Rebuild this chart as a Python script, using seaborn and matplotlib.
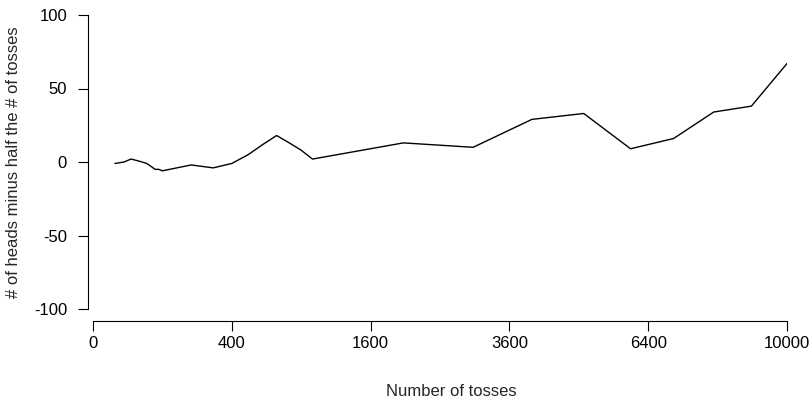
import numpy as np
import pandas as pd
import matplotlib
matplotlib.use("Agg")
import matplotlib.pyplot as plt
import seaborn as sns

# Kerrich's coin tosses: running count of heads minus half the tosses
tosses = [10, 20, 30, 40, 50, 60, 70, 80, 90, 100,
          200, 300, 400, 500, 600, 700, 800, 900, 1000,
          2000, 3000, 4000, 5000, 6000, 7000, 8000, 9000, 10000]
difference = [-1, 0, 2, 1, 0, -1, -3, -5, -5, -6,
              -2, -4, -1, 5, 12, 18, 13, 8, 2,
              13, 10, 29, 33, 9, 16, 34, 38, 67]
x_ticks = [0, 400, 1600, 3600, 6400, 10000]
y_ticks = [-100, -50, 0, 50, 100]

df = pd.DataFrame({"tosses": tosses, "difference": difference})

sns.set_theme(style="ticks")
plt.rcParams["font.family"] = ["Liberation Sans", "DejaVu Sans"]

W, H = 812, 399
FS = 12
fig = plt.figure(figsize=(W / 100, H / 100), dpi=100)
ax = fig.add_axes([93 / W, (H - 309) / H, (787 - 93) / W, (309 - 15) / H])

# square-root scale on the horizontal axis
def fwd(x):
    x = np.asarray(x, dtype=float)
    return np.sign(x) * np.sqrt(np.abs(x))

def inv(x):
    x = np.asarray(x, dtype=float)
    return np.sign(x) * x ** 2

ax.set_xscale("function", functions=(fwd, inv))

sns.lineplot(data=df, x="tosses", y="difference", color="black",
             linewidth=1.0, estimator=None, ax=ax)

ax.set_xlim(0, 10000)
ax.set_ylim(-100, 100)
ax.set_xticks(x_ticks)
ax.set_xticklabels([str(t) for t in x_ticks])
ax.set_yticks(y_ticks)
ax.set_yticklabels([str(t) for t in y_ticks])
ax.minorticks_off()

for s in ("top", "right"):
    ax.spines[s].set_visible(False)
ax.spines["left"].set_position(("outward", 3.6))
ax.spines["bottom"].set_position(("outward", 8.3))
for s in ("left", "bottom"):
    ax.spines[s].set_color("black")
    ax.spines[s].set_linewidth(0.8)

ax.tick_params(axis="both", colors="black", length=7.3, width=0.8,
               labelsize=FS, direction="out")
ax.tick_params(axis="x", pad=4.0)
ax.tick_params(axis="y", pad=7.8)

ax.set_xlabel("")
ax.set_ylabel("")
fig.text(451 / W, 1 - 391 / H, "Number of tosses", ha="center",
         va="center", fontsize=FS)
fig.text(14 / W, 1 - 162 / H, "# of heads minus half the # of tosses",
         ha="center", va="center", rotation=90, fontsize=FS)

fig.savefig("out.png", dpi=100, facecolor="white")
